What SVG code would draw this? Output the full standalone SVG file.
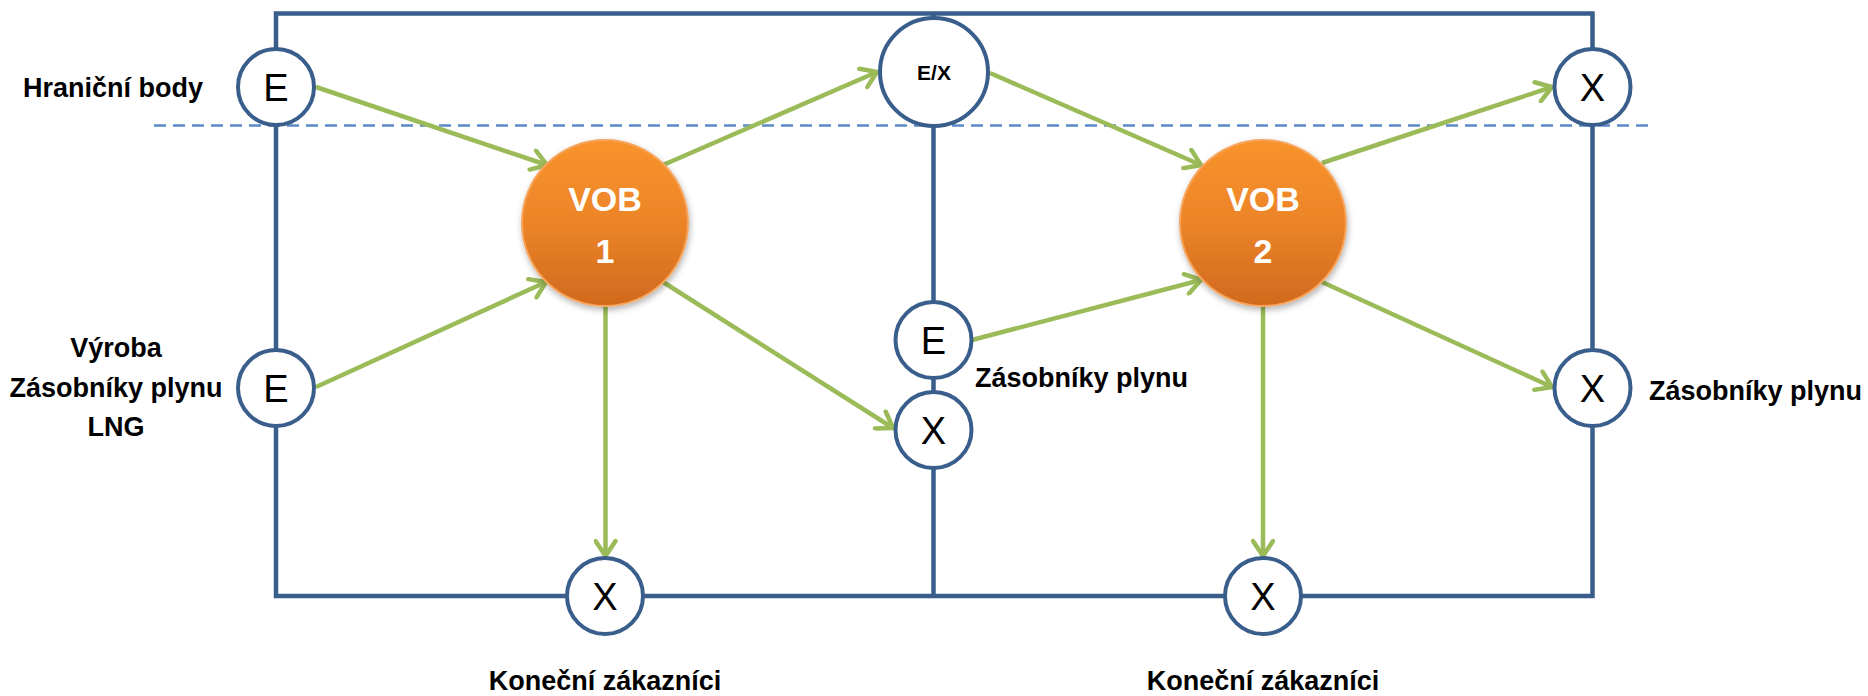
<svg xmlns="http://www.w3.org/2000/svg" width="1868" height="696" viewBox="0 0 1868 696">
<style>
.frame{fill:none;stroke:#395E8C;stroke-width:4.5;stroke-linejoin:miter}
.dash{fill:none;stroke:#5B8AC6;stroke-width:2.5;stroke-dasharray:12 7}
.arr{fill:none;stroke:#9BBB59;stroke-width:4.5;marker-end:url(#ah)}
.pt{fill:#fff;stroke:#395E8C;stroke-width:4}
.ptl{font-family:"Liberation Sans",Arial,sans-serif;font-size:38px;fill:#000;text-anchor:middle}
.lbl{font-family:"Liberation Sans",Arial,sans-serif;font-size:27px;font-weight:bold;fill:#000}
.vob{fill:url(#og);stroke:#F6A55E;stroke-width:2;filter:url(#sh)}
.vobt{font-family:"Liberation Sans",Arial,sans-serif;font-size:34px;font-weight:bold;fill:#fff;text-anchor:middle}
</style>
<defs>
<linearGradient id="og" x1="0" y1="0" x2="0" y2="1">
<stop offset="0" stop-color="#F9932C"/>
<stop offset="0.5" stop-color="#EC8428"/>
<stop offset="1" stop-color="#D1691E"/>
</linearGradient>
<filter id="sh" x="-20%" y="-20%" width="140%" height="140%">
<feDropShadow dx="1" dy="3" stdDeviation="3" flood-color="#000" flood-opacity="0.3"/>
</filter>
<marker id="ah" viewBox="0 0 24 24" refX="20" refY="12" markerWidth="24" markerHeight="24" markerUnits="userSpaceOnUse" orient="auto">
<path d="M5,2 L20,12 L5,22" fill="none" stroke="#9BBB59" stroke-width="4.5" stroke-linecap="round" stroke-linejoin="round"/>
</marker>
</defs>
<rect width="1868" height="696" fill="#fff"/>
<g id="frame">
<path class="frame" d="M276,13.5 H1592.5 V596 H276 Z"/>
<path class="frame" d="M933.5,13.5 V596"/>
<path class="dash" d="M154,125.5 H1653"/>
</g>
<g id="connectors">
<path class="arr" d="M316,87 L547,165"/>
<path class="arr" d="M316,387 L546,282"/>
<path class="arr" d="M663,165 L877,72"/>
<path class="arr" d="M663,282 L893,428"/>
<path class="arr" d="M605.5,306 L605.5,556"/>
<path class="arr" d="M990,73 L1201,165"/>
<path class="arr" d="M972,340 L1201,280"/>
<path class="arr" d="M1322,163 L1552,87"/>
<path class="arr" d="M1322,282 L1552,387"/>
<path class="arr" d="M1263,306 L1263,556"/>
</g>
<g id="vob1"><circle class="vob" cx="605" cy="223" r="83"/><text class="vobt" x="605" y="211">VOB</text><text class="vobt" x="605" y="263">1</text></g>
<g id="vob2"><circle class="vob" cx="1263" cy="223" r="83"/><text class="vobt" x="1263" y="211">VOB</text><text class="vobt" x="1263" y="263">2</text></g>
<g id="e-hranicni"><circle class="pt" cx="276" cy="87" r="38"/><text class="ptl" x="276" y="101">E</text></g>
<g id="e-vyroba"><circle class="pt" cx="276" cy="388" r="38"/><text class="ptl" x="276" y="402">E</text></g>
<g id="ex-mid"><circle class="pt" cx="934" cy="72" r="54"/><text class="ptl" x="934" y="80" style="font-size:21px;font-weight:bold">E/X</text></g>
<g id="e-zasobniky-mid"><circle class="pt" cx="933.5" cy="340" r="38"/><text class="ptl" x="933.5" y="354">E</text></g>
<g id="x-mid"><circle class="pt" cx="933.5" cy="430" r="38"/><text class="ptl" x="933.5" y="444">X</text></g>
<g id="x-top-right"><circle class="pt" cx="1592.5" cy="87" r="38"/><text class="ptl" x="1592.5" y="101">X</text></g>
<g id="x-zasobniky-right"><circle class="pt" cx="1592.5" cy="388" r="38"/><text class="ptl" x="1592.5" y="402">X</text></g>
<g id="x-bottom-1"><circle class="pt" cx="605" cy="596" r="38"/><text class="ptl" x="605" y="610">X</text></g>
<g id="x-bottom-2"><circle class="pt" cx="1263" cy="596" r="38"/><text class="ptl" x="1263" y="610">X</text></g>
<g id="labels">
<text class="lbl" x="23" y="97">Hraniční body</text>
<text class="lbl" x="116" y="357" text-anchor="middle">Výroba</text>
<text class="lbl" x="116" y="397" text-anchor="middle">Zásobníky plynu</text>
<text class="lbl" x="116" y="436" text-anchor="middle">LNG</text>
<text class="lbl" x="975" y="387">Zásobníky plynu</text>
<text class="lbl" x="1649" y="400">Zásobníky plynu</text>
<text class="lbl" x="605" y="690" text-anchor="middle">Koneční zákazníci</text>
<text class="lbl" x="1263" y="690" text-anchor="middle">Koneční zákazníci</text>
</g>
</svg>
